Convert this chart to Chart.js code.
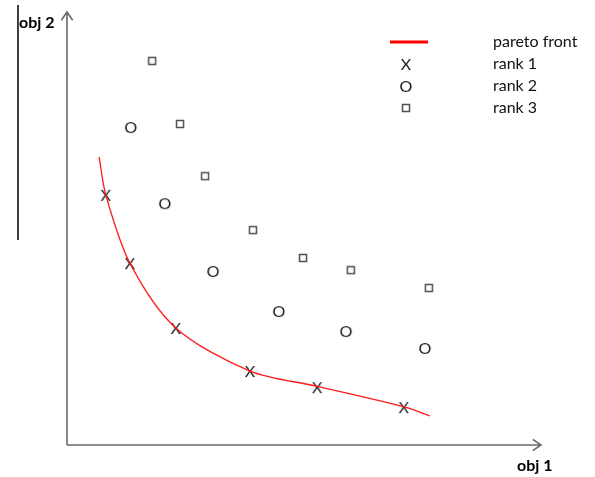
<!DOCTYPE html>
<html>
<head>
<meta charset="utf-8">
<script src="https://cdn.jsdelivr.net/npm/chart.js@4"></script>
<style>
  html, body { margin: 0; padding: 0; background: #fff; }
  #wrap { width: 595px; height: 477px; }
</style>
</head>
<body>
<div id="wrap"><canvas id="myChart" width="595" height="477"></canvas></div>
<script>
// values in arbitrary objective units (0..10 on each axis)
var rank1X = [0.82, 1.33, 2.30, 3.87, 5.29, 7.12];
var rank1Y = [5.75, 4.18, 2.69, 1.70, 1.33, 0.87];
var rank2X = [1.35, 2.07, 3.09, 4.48, 5.90, 7.57];
var rank2Y = [7.31, 5.56, 4.00, 3.08, 2.62, 2.23];
var rank3X = [1.80, 2.39, 2.92, 3.93, 4.99, 6.00, 7.65];
var rank3Y = [8.83, 7.38, 6.18, 4.94, 4.30, 4.02, 3.61];
var frontX = [0.68, 0.82, 1.33, 2.30, 3.87, 5.29, 7.12, 7.67];
var frontY = [6.62, 5.75, 4.18, 2.69, 1.70, 1.35, 0.88, 0.67];
var legendLabels = ['pareto front', 'rank 1', 'rank 2', 'rank 3'];
var axisLabels = ['obj 1', 'obj 2'];

var FONT = 'Lato, "Open Sans", sans-serif';

function toPoints(xs, ys) {
    return xs.map(function (x, i) { return { x: x, y: ys[i] }; });
}

// text glyph markers (X and O drawn as letters)
function glyph(ch) {
    var c = document.createElement('canvas');
    c.width = 20; c.height = 20;
    var g = c.getContext('2d');
    g.fillStyle = '#1a1a1a';
    g.font = '16px ' + FONT;
    g.textAlign = 'center';
    g.textBaseline = 'middle';
    g.fillText(ch, 10, 11);
    return c;
}
function square() {
    var c = document.createElement('canvas');
    c.width = 10; c.height = 10;
    var g = c.getContext('2d');
    g.fillStyle = '#fff';
    g.fillRect(1, 1, 8, 8);
    g.strokeStyle = '#505050';
    g.lineWidth = 1.5;
    g.strokeRect(1.5, 1.5, 7, 7);
    return c;
}
var markX = glyph('X');
var markO = glyph('O');
var markSq = square();

function arrow(ctx, x0, y0, x1, y1) {
    var a = Math.atan2(y1 - y0, x1 - x0);
    ctx.beginPath();
    ctx.moveTo(x0, y0);
    ctx.lineTo(x1, y1);
    ctx.moveTo(x1 - 10 * Math.cos(a - 0.6), y1 - 10 * Math.sin(a - 0.6));
    ctx.lineTo(x1, y1);
    ctx.lineTo(x1 - 10 * Math.cos(a + 0.6), y1 - 10 * Math.sin(a + 0.6));
    ctx.stroke();
}

var decor = {
    id: 'decor',
    beforeDatasetsDraw: function (chart) {
        var ctx = chart.ctx;
        var xs = chart.scales.x, ys = chart.scales.y;
        var ox = xs.getPixelForValue(0), oy = ys.getPixelForValue(0);
        ctx.save();
        ctx.strokeStyle = '#6a6a6a';
        ctx.lineWidth = 1.6;
        arrow(ctx, ox, oy, ox, 12);
        arrow(ctx, ox, oy, 541, oy);
        // stray vertical rule at the left
        ctx.strokeStyle = '#000';
        ctx.lineWidth = 1.5;
        ctx.beginPath();
        ctx.moveTo(18, 5);
        ctx.lineTo(18, 240);
        ctx.stroke();
        ctx.fillStyle = '#000';
        ctx.font = 'bold 16px ' + FONT;
        ctx.textBaseline = 'middle';
        ctx.textAlign = 'left';
        ctx.fillText(axisLabels[1], 19, 23);
        ctx.fillText(axisLabels[0], 517, 466);
        ctx.restore();
    },
    afterDraw: function (chart) {
        var ctx = chart.ctx;
        ctx.save();
        ctx.strokeStyle = '#ff0000';
        ctx.lineWidth = 3;
        ctx.beginPath();
        ctx.moveTo(390, 42);
        ctx.lineTo(428, 42);
        ctx.stroke();
        var marks = [null, markX, markO, markSq];
        ctx.fillStyle = '#111';
        ctx.font = '16px ' + FONT;
        ctx.textBaseline = 'middle';
        ctx.textAlign = 'left';
        legendLabels.forEach(function (t, i) {
            var y = 42 + i * 22;
            if (marks[i]) {
                ctx.drawImage(marks[i], 406 - marks[i].width / 2, y - marks[i].height / 2);
            }
            ctx.fillText(t, 493, y);
        });
        ctx.restore();
    }
};

var ctx = document.getElementById('myChart').getContext('2d');
var myChart = new Chart(ctx, {
    type: 'scatter',
    data: {
        datasets: [{
            label: legendLabels[0],
            type: 'line',
            data: toPoints(frontX, frontY),
            borderColor: '#ff1a1a',
            borderWidth: 1.3,
            pointRadius: 0,
            fill: false,
            tension: 0.3
        }, {
            label: legendLabels[1],
            data: toPoints(rank1X, rank1Y),
            pointStyle: markX
        }, {
            label: legendLabels[2],
            data: toPoints(rank2X, rank2Y),
            pointStyle: markO
        }, {
            label: legendLabels[3],
            data: toPoints(rank3X, rank3Y),
            pointStyle: markSq
        }]
    },
    options: {
        responsive: false,
        animation: false,
        layout: { padding: { left: 67, top: 10, right: 55, bottom: 32 } },
        plugins: { legend: { display: false }, tooltip: { enabled: false } },
        scales: {
            x: { type: 'linear', min: 0, max: 10, display: false },
            y: { type: 'linear', min: 0, max: 10, display: false }
        }
    },
    plugins: [decor]
});
</script>
</body>
</html>
